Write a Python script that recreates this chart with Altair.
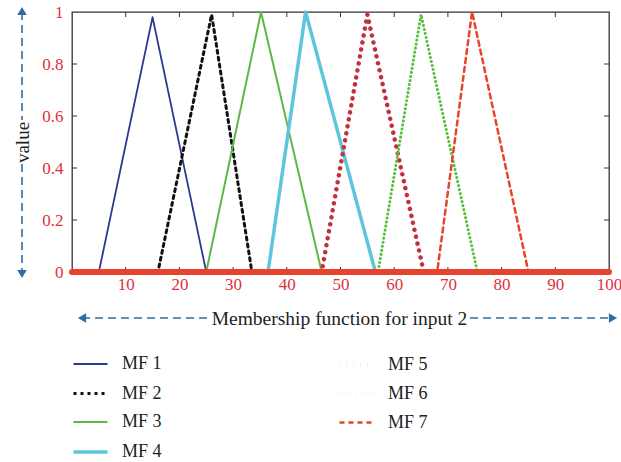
import altair as alt
import pandas as pd

# ---------------- data ----------------
names = ["MF 1", "MF 2", "MF 3", "MF 4", "MF 5", "MF 6", "MF 7"]
starts = [5, 16, 25, 36.5, 46.5, 57, 68]
peaks = [15, 26, 35.2, 43.5, 55, 65, 74.5]
ends = [25, 33.5, 46.5, 56.5, 65.5, 75.5, 85]
peak_vals = [0.98, 0.99, 1.0, 1.0, 0.99, 0.99, 1.0]
x_min, x_max = 0, 100

x_tick_values = [10, 20, 30, 40, 50, 60, 70, 80, 90, 100]
y_tick_values = [0, 0.2, 0.4, 0.6, 0.8, 1]
x_title = "Membership function for input 2"
y_title = "value"

# ---------------- styles ----------------
colors = ["#2b3990", "#111111", "#5cb946", "#5dc6dc", "#c52f3a", "#55c13c", "#e8442a"]
dashes = [[1, 0], [3, 4], [1, 0], [1, 0], [0.1, 7], [0.1, 4], [5, 4]]
widths = [1.8, 3, 2, 3.5, 4.5, 3, 2.5]
RED = "#e0303a"
BLUE = "#2e6da4"
SERIF = "Liberation Serif"

W, H = 537, 260

rows = []
for n, s, p, e, pv in zip(names, starts, peaks, ends, peak_vals):
    pts = [(x_min, 0), (s, 0), (p, pv), (e, 0), (x_max, 0)]
    for k, (xx, yy) in enumerate(pts):
        rows.append({"series": n, "x": xx, "y": yy, "k": k})
df = pd.DataFrame(rows)

x_scale = alt.Scale(domain=[x_min, x_max], nice=False, zero=False)
y_scale = alt.Scale(domain=[0, 1], nice=False)

legend = alt.Legend(
    title=None, orient="none", legendX=-1, legendY=333, columns=2,
    symbolType="stroke", symbolSize=1156, symbolStrokeWidth=2.2,
    labelFont=SERIF, labelFontSize=18, labelColor="#222", labelOffset=12,
    columnPadding=168, rowPadding=1, padding=0,
)

x_axis = alt.Axis(
    values=x_tick_values, format="d", ticks=False, tickSize=0, domain=False, grid=False,
    labelColor=RED, labelFont=SERIF, labelFontSize=17, labelPadding=4,
    labelFlush=False, labelOverlap=False,
    title=x_title, titleFont=SERIF, titleFontSize=19.5, titleFontWeight="normal",
    titleColor="#222", titleX=267, titleY=46, titleAlign="center", titleBaseline="middle",
)
y_axis = alt.Axis(
    values=y_tick_values, format="~g", ticks=False, tickSize=0, domain=False, grid=False,
    labelColor=RED, labelFont=SERIF, labelFontSize=17, labelPadding=9,
    labelFlush=False, labelOverlap=False,
    title=y_title, titleFont=SERIF, titleFontSize=19, titleFontWeight="normal",
    titleColor="#222", titleX=-50, titleY=130, titleAngle=270,
    titleAlign="center", titleBaseline="middle",
)

lines = alt.Chart(df).mark_line(strokeCap="round", strokeJoin="round").encode(
    x=alt.X("x:Q", scale=x_scale, axis=x_axis),
    y=alt.Y("y:Q", scale=y_scale, axis=y_axis),
    color=alt.Color("series:N", scale=alt.Scale(domain=names, range=colors), legend=legend),
    strokeDash=alt.StrokeDash("series:N", scale=alt.Scale(domain=names, range=dashes), legend=legend),
    strokeWidth=alt.StrokeWidth("series:N", scale=alt.Scale(type="ordinal", domain=names, range=widths), legend=None),
    order="k:Q",
)

# baseline (zero segments drawn thick like the marker-laden original)
base_df = pd.DataFrame({"x": [x_min], "x2": [x_max], "y": [0]})
baseline = alt.Chart(base_df).mark_rule(color="#e8412c", strokeWidth=6, strokeCap="round").encode(
    x=alt.X("x:Q", scale=x_scale), x2="x2:Q", y=alt.Y("y:Q", scale=y_scale)
)

# inward ticks on all four sides
xt = pd.DataFrame({"x": x_tick_values[:-1]})
yt = pd.DataFrame({"y": y_tick_values[1:-1]})
tick_style = dict(color="#333", strokeWidth=1)
t_bottom = alt.Chart(xt).mark_rule(**tick_style).encode(
    x=alt.X("x:Q", scale=x_scale), y=alt.value(H), y2=alt.value(H - 5))
t_top = alt.Chart(xt).mark_rule(**tick_style).encode(
    x=alt.X("x:Q", scale=x_scale), y=alt.value(0), y2=alt.value(5))
t_left = alt.Chart(yt).mark_rule(**tick_style).encode(
    y=alt.Y("y:Q", scale=y_scale), x=alt.value(0), x2=alt.value(5))
t_right = alt.Chart(yt).mark_rule(**tick_style).encode(
    y=alt.Y("y:Q", scale=y_scale), x=alt.value(W), x2=alt.value(W - 5))

# dashed arrow decorations around the axis titles
one = alt.Data(values=[{}])
dash_style = dict(color=BLUE, strokeWidth=1.6, strokeDash=[8, 5])
ax_l = alt.Chart(one).mark_rule(**dash_style).encode(
    x=alt.value(10), x2=alt.value(137), y=alt.value(306))
ax_r = alt.Chart(one).mark_rule(**dash_style).encode(
    x=alt.value(398), x2=alt.value(540), y=alt.value(306))
ay_t = alt.Chart(one).mark_rule(**dash_style).encode(
    y=alt.value(0), y2=alt.value(108), x=alt.value(-50))
ay_b = alt.Chart(one).mark_rule(**dash_style).encode(
    y=alt.value(152), y2=alt.value(258), x=alt.value(-50))
head_style = dict(color=BLUE, filled=True, opacity=1, size=90)
h_left = alt.Chart(one).mark_point(shape="triangle-left", **head_style).encode(
    x=alt.value(10), y=alt.value(306))
h_right = alt.Chart(one).mark_point(shape="triangle-right", **head_style).encode(
    x=alt.value(541), y=alt.value(306))
h_up = alt.Chart(one).mark_point(shape="triangle-up", **head_style).encode(
    x=alt.value(-50), y=alt.value(-1))
h_down = alt.Chart(one).mark_point(shape="triangle-down", **head_style).encode(
    x=alt.value(-50), y=alt.value(262))

chart = alt.layer(
    t_bottom, t_top, t_left, t_right, lines, baseline,
    ax_l, ax_r, ay_t, ay_b, h_left, h_right, h_up, h_down,
).properties(
    width=W, height=H,
    autosize=alt.AutoSizeParams(type="none"),
    padding={"left": 72, "top": 12, "right": 12, "bottom": 190},
    background="white",
).configure_view(
    stroke="#333", strokeWidth=1.3
)

chart.save("out.html", embed_options={"renderer": "svg", "actions": False})
